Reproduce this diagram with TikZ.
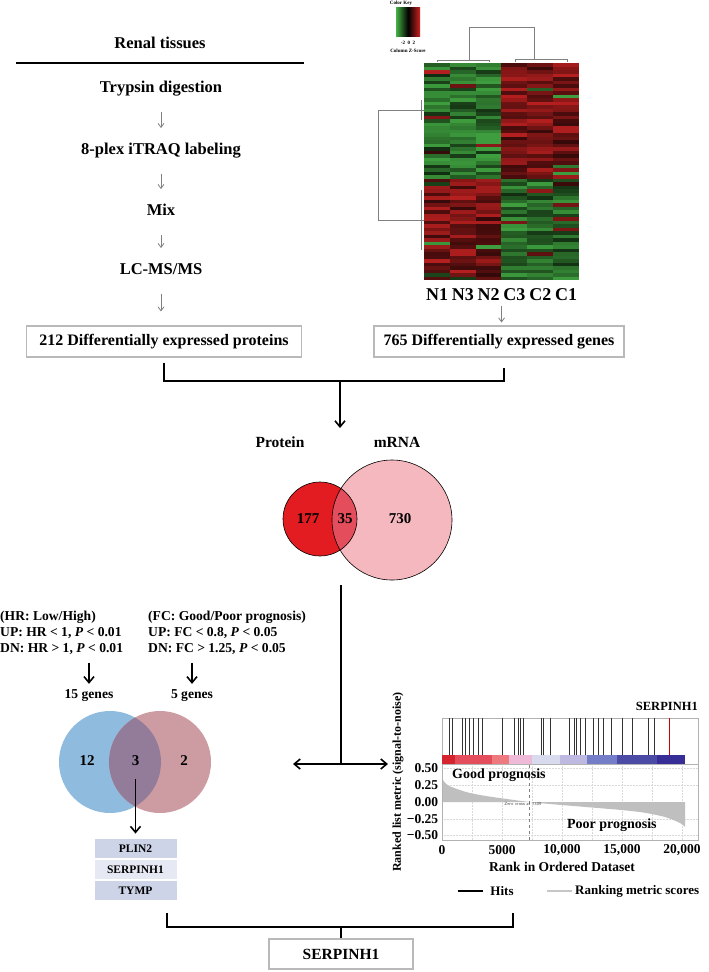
\documentclass[tikz,border=0pt]{standalone}
\usepackage{fontspec}
\setmainfont{Liberation Serif}
\usetikzlibrary{calc, positioning, arrows.meta}
\definecolor{hm_green}{RGB}{70, 178, 70}
\definecolor{hm_red}{RGB}{205, 35, 35}
\definecolor{venn_red}{RGB}{226, 28, 32}
\definecolor{venn_pink}{RGB}{244, 184, 190}
\definecolor{venn_mix}{RGB}{228, 78, 92}
\definecolor{venn_blue}{RGB}{143, 188, 222}
\definecolor{venn_rose}{RGB}{205, 156, 162}
\definecolor{venn_violet}{RGB}{146, 124, 154}
\definecolor{list_blue}{RGB}{206, 212, 232}
\definecolor{list_pale}{RGB}{230, 233, 243}
\definecolor{band_1}{RGB}{214, 36, 46}
\definecolor{band_2}{RGB}{228, 78, 92}
\definecolor{band_3}{RGB}{238, 122, 128}
\definecolor{band_4}{RGB}{238, 186, 215}
\definecolor{band_5}{RGB}{216, 218, 238}
\definecolor{band_6}{RGB}{190, 185, 225}
\definecolor{band_7}{RGB}{115, 125, 200}
\definecolor{band_8}{RGB}{75, 75, 165}
\definecolor{band_9}{RGB}{55, 45, 150}
\tikzset {
  flowtext/.style = {font=\fontsize{16.5}{18}\selectfont\bfseries, inner sep=0pt, text height=12pt, text depth=3.5pt},
  headtext/.style = {font=\fontsize{16.5}{19}\selectfont\bfseries, inner sep=0pt},
  box/.style = {draw=gray!55, line width=1.1pt, font=\fontsize{16}{18}\selectfont\bfseries, inner sep=0pt, minimum height=31pt},
  colname/.style = {font=\fontsize{18}{20}\selectfont\bfseries, inner sep=0pt},
  smalltext/.style = {font=\fontsize{13.6}{16}\selectfont\bfseries, inner sep=0pt, align=left},
  vnum/.style = {font=\fontsize{15}{17}\selectfont\bfseries, inner sep=0pt},
  keytext/.style = {font=\fontsize{5}{6}\selectfont\bfseries, inner sep=0pt},
  ticklab/.style = {font=\fontsize{13.5}{16}\selectfont\bfseries, inner sep=0pt},
  geneitem/.style = {fill=list_blue, minimum width=82pt, minimum height=19.5pt, inner sep=0pt, font=\fontsize{11.5}{13}\selectfont\bfseries},
  grayarrow/.style = {-{Straight Barb[length=4pt, width=6pt]}, gray, line width=0.8pt},
  flowarrow/.style = {grayarrow, shorten <=16pt, shorten >=14pt},
  blkarrow/.style = {-{Straight Barb[length=6pt, width=10pt]}, line width=1.6pt},
  blkline/.style = {line width=1.6pt},
  bracket/.style = {line width=2.6pt},
  dendro/.style = {gray, line width=0.8pt}
}

\begin{document}
\begin{tikzpicture}[x=1pt, y=-1pt]

    \fill[white] (0,0) rectangle (709,972);
    \useasboundingbox (0,0) rectangle (709,972);

    % proteomics branch
    \node[headtext] (renal) at (160,43) {Renal tissues};
    \draw[line width=2.6pt] (16,63) -- (304,63);
    \node[flowtext] (trypsin) at (161,88) {Trypsin digestion};
    \node[flowtext] (itraq) at (161,150) {8-plex iTRAQ labeling};
    \node[flowtext] (mix) at (161,211) {Mix};
    \node[flowtext] (lcms) at (161,270) {LC-MS/MS};
    \node[box, minimum width=275pt] (protbox) at (164,341.5) {212 Differentially expressed proteins};

    \foreach \a/\b in {trypsin/itraq, itraq/mix, mix/lcms}
        \draw[flowarrow] (\a) -- (\b);
    \draw[flowarrow] (lcms) -- (lcms |- protbox.north);

    % heatmap
    \pgfmathsetseed{12}
    \foreach \c in {0,...,5}{
        \foreach \r in {0,...,61}{
            \pgfmathsetmacro\s{ifthenelse(\c<3,-1,1)*ifthenelse(\r<33,1,-1)*ifthenelse(rnd<0.05,-1,1)}
            \pgfmathtruncatemacro\v{25+65*rnd}
            \ifdim\s pt<0pt \def\hc{hm_green}\else\def\hc{hm_red}\fi
            \fill[\hc!\v!black] (424+25.83*\c, 63+3.5*\r) rectangle ++(25.9,3.6);
        }
    }
    \draw[dendro] (469,60) -- (469,27) -- (534,27) -- (534,59);
    \draw[dendro] (437,62) -- (437,60) -- (489,60) -- (489,62);
    \draw[dendro] (515,62) -- (515,59) -- (567,59) -- (567,62);
    \draw[dendro] (424,110) -- (378,110) -- (378,220) -- (424,220);
    \draw[dendro] (421,100) -- (421,120);
    \draw[dendro] (421,190) -- (421,250);

    % colour key
    \node[keytext] (keytitle) at (401,3.5) {Color Key};
    \shade[left color=hm_green, right color=hm_red, middle color=black] (396,7) rectangle (420,36);
    \node[keytext] (keyticks) at (408,43) {-2\ \ 0\ \ 2};
    \node[keytext] (keyname) at (408,51) {Column Z-Score};

    \foreach \lab [count=\i from 0] in {N1,N3,N2,C3,C2,C1}
        \node[colname] (col\i) at (437+25.83*\i, 295) {\lab};

    \node[box, minimum width=250pt] (genebox) at (499,341.5) {765 Differentially expressed genes};
    \coordinate (hmout) at ($(col2.south)!0.5!(col3.south)$);
    \draw[grayarrow, shorten <=5pt, shorten >=3pt] (hmout) -- (hmout |- genebox.north);

    % merge into venn
    \coordinate (merge) at (340,381);
    \draw[bracket] ([yshift=-5pt]protbox.south) |- (merge) -| ([xshift=5pt, yshift=-10pt]genebox.south);
    \coordinate (venntop) at (340,428);
    \draw[blkarrow] (merge) -- (venntop);

    \node[headtext, font=\fontsize{15.5}{18}\selectfont\bfseries] (protlab) at (280,442) {Protein};
    \node[headtext, font=\fontsize{15.5}{18}\selectfont\bfseries] (mrnalab) at (397,442) {mRNA};

    \node[circle, minimum size=120pt, fill=venn_pink] (mrnaC) at (392,520) {};
    \node[circle, minimum size=74pt, fill=venn_red] (protC) at (320,519) {};
    \begin{scope}
        \clip (protC.center) circle (37pt);
        \fill[venn_mix] (mrnaC.center) circle (60pt);
    \end{scope}
    \draw[line width=0.6pt] (mrnaC.center) circle (60pt);
    \draw[line width=0.6pt] (protC.center) circle (37pt);
    \node[vnum] (n177) at (308,519) {177};
    \node[vnum] (n35) at (345,519) {35};
    \node[vnum] (n730) at (400,519) {730};

    \coordinate (split) at (341,764);
    \coordinate (toVenn) at (293,764);
    \coordinate (toGsea) at (388,764);
    \draw[blkline] ($(split |- mrnaC.south)+(0,5)$) -- (split);
    \draw[blkarrow] (split) -- (toVenn);
    \draw[blkarrow] (split) -- (toGsea);

    % survival / fold change filter
    \node[smalltext, anchor=west] (hrcrit) at (0,633) {(HR: Low/High)\\UP: HR < 1, \textit{P} < 0.01\\DN: HR > 1, \textit{P} < 0.01};
    \node[smalltext, anchor=west] (fccrit) at (148,633) {(FC: Good/Poor prognosis)\\UP: FC < 0.8, \textit{P} < 0.05\\DN: FC > 1.25, \textit{P} < 0.05};
    \node[smalltext] (hrgenes) at (89,696) {15 genes};
    \node[smalltext] (fcgenes) at (192,696) {5 genes};
    \draw[blkarrow, shorten <=8pt, shorten >=6pt] (hrgenes |- hrcrit.south) -- (hrgenes);
    \draw[blkarrow, shorten <=8pt, shorten >=6pt] (fcgenes |- fccrit.south) -- (fcgenes);

    \node[circle, minimum size=102pt, fill=venn_blue] (hrC) at (110,762) {};
    \node[circle, minimum size=102pt, fill=venn_rose] (fcC) at (160,762) {};
    \begin{scope}
        \clip (hrC.center) circle (51pt);
        \fill[venn_violet] (fcC.center) circle (51pt);
    \end{scope}
    \node[vnum] (n12) at (87,761) {12};
    \node[vnum] (n3) at (135.5,761) {3};
    \node[vnum] (n2) at (184,761) {2};

    \node[geneitem] (plin) at (135.5,848.5) {PLIN2};
    \node[geneitem, fill=list_pale, below=1.2pt of plin] (serpitem) {SERPINH1};
    \node[geneitem, below=1.2pt of serpitem] (tymp) {TYMP};
    \draw[blkarrow, shorten <=13pt, shorten >=5pt] (n3) -- (plin);

    % enrichment plot
    \begin{scope}[shift={(442,802)}, x=12pt, y=67pt]
        \foreach \gx in {2.5,5,...,20}
            \draw[gray!30, densely dotted, line width=0.5pt] (\gx,-0.567) -- (\gx,0.567);
        \foreach \gy in {-0.5,-0.25,0.25,0.5}
            \draw[gray!30, densely dotted, line width=0.5pt] (0,\gy) -- (21.33,\gy);
        \fill[gray!50] (0,0) -- plot[smooth, tension=0.5] coordinates {(0,0.38) (0.15,0.31) (0.5,0.25) (1,0.21) (2,0.15) (3,0.11) (4,0.08) (5,0.055) (6,0.03) (7.309,0) (9,-0.03) (11,-0.06) (13,-0.09) (15,-0.12) (16.5,-0.15) (17.5,-0.18) (18.5,-0.22) (19.3,-0.27) (19.9,-0.32) (20.25,-0.37)} -- (20.25,0) -- cycle;
        \draw[gray, dashed, line width=0.5pt] (7.309,-0.567) -- (7.309,0.567);
        \node[font=\fontsize{4.5}{5}\selectfont\sffamily, text=gray!60!black, inner sep=0.5pt] (zerocross) at (6.75,-0.03) {Zero cross at 7309};
        \draw[gray!60, line width=0.6pt] (0,-0.567) rectangle (21.33,0.567);
        \draw[gray!60, line width=0.6pt] (0,0.567) rectangle (21.33,1.254);
        \foreach \a/\b/\col in {0/1.08/band_1, 1.08/4.17/band_2, 4.17/5.58/band_3, 5.58/7.5/band_4, 7.5/9.83/band_5, 9.83/12.08/band_6, 12.08/14.58/band_7, 14.58/17.92/band_8, 17.92/20.25/band_9}
            \fill[\col] (\a,0.567) rectangle (\b,0.70);
        \foreach \h in {0.58,0.83,1.67,1.92,2.25,2.58,3.0,3.33,5.0,6.0,6.33,6.5,6.75,8.25,8.42,9.0,10.58,11.0,11.17,11.5,11.92,12.58,13.0,13.42,14.08,15.0,15.83,17.17,17.67}
            \draw[gray!40!black, line width=0.8pt] (\h,0.70) -- (\h,1.254);
        \draw[red!80!black, line width=0.9pt] (18.92,0.70) -- (18.92,1.254);

        \foreach \v/\t in {0.5/0.50, 0.25/0.25, 0/0.00, -0.25/−0.25, -0.5/−0.50}
            \node[ticklab, anchor=east] at (-0.3,\v) {\t};
        \foreach \v/\t in {0/0, 5/5000, 10/{10,000}, 15/{15,000}, 20/{20,000}}
            \node[ticklab] at (\v,-0.72) {\t};
        \node[ticklab] (ranklab) at (10,-0.97) {Rank in Ordered Dataset};
        \node[ticklab, font=\fontsize{12}{14}\selectfont\bfseries, rotate=90] (metriclab) at (-3.67,0.3) {Ranked list metric (signal-to-noise)};
        \node[ticklab, font=\fontsize{14}{16}\selectfont\bfseries, anchor=west] (good) at (0.83,0.40) {Good prognosis};
        \node[ticklab, font=\fontsize{14}{16}\selectfont\bfseries, anchor=east] (poor) at (17.9,-0.34) {Poor prognosis};
        \node[ticklab, font=\fontsize{12.5}{14}\selectfont\bfseries, anchor=east] (serplab) at (21.33,1.43) {SERPINH1};

        \draw[line width=1.4pt] (1.33,-1.33) -- (3.42,-1.33);
        \node[ticklab, font=\fontsize{13}{15}\selectfont\bfseries] (hitslab) at (5.0,-1.33) {Hits};
        \draw[gray!45, line width=1.4pt] (8.75,-1.33) -- (10.83,-1.33);
        \node[ticklab, font=\fontsize{13}{15}\selectfont\bfseries, anchor=west] (scorelab) at (11.08,-1.33) {Ranking metric scores};
    \end{scope}

    % final candidate
    \coordinate (brL) at (167,913);
    \coordinate (brR) at (513,913);
    \coordinate (brM) at (341,927);
    \node[box, font=\fontsize{15.5}{18}\selectfont\bfseries, minimum width=144pt, minimum height=30pt] (final) at (341,954) {SERPINH1};
    \draw[bracket] (brL) |- (brM) -| (brR);
    \draw[bracket] (brM) -- (final);

\end{tikzpicture}
\end{document}
